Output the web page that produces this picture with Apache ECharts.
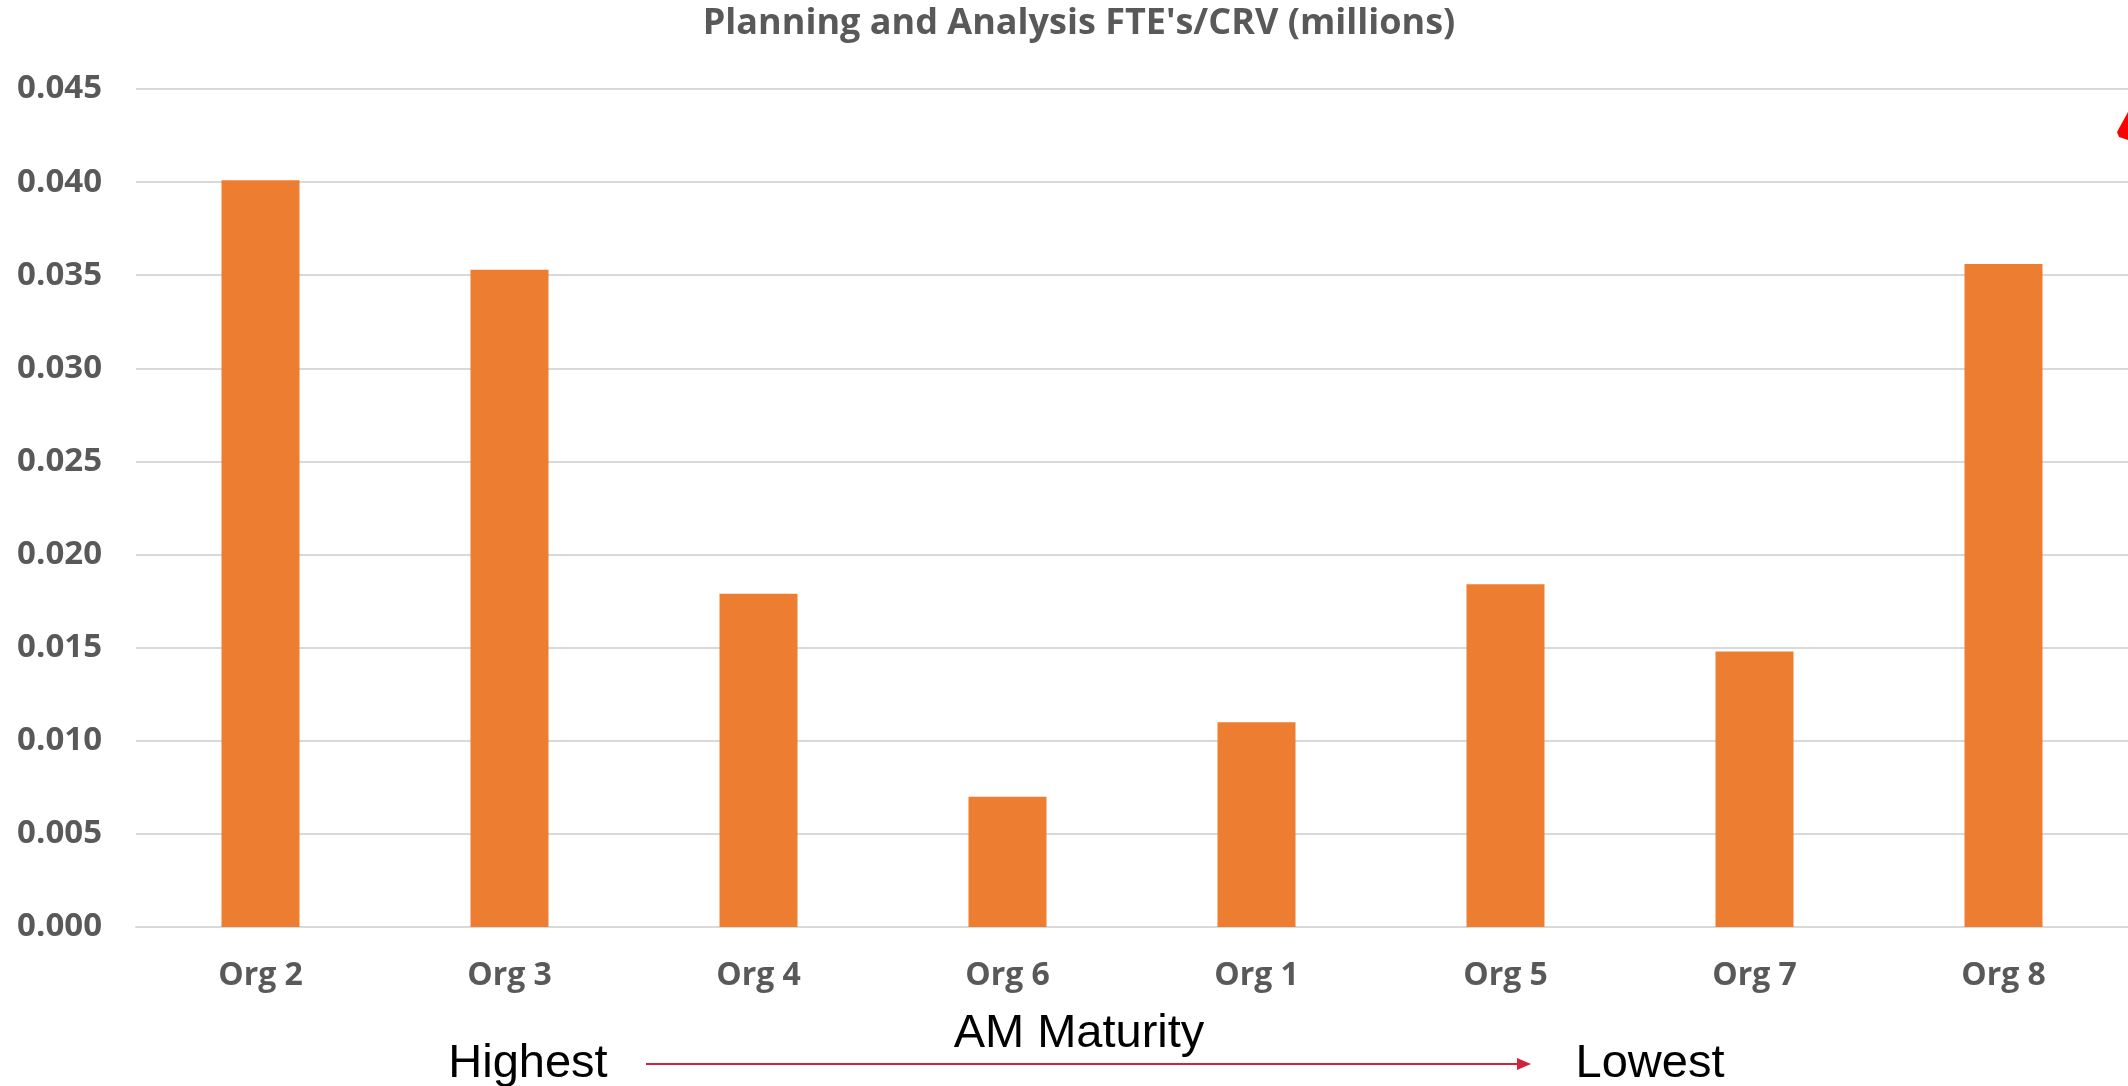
<!DOCTYPE html>
<html>
<head>
<meta charset="utf-8">
<style>
html,body{margin:0;padding:0;background:#fff;}
#chart{width:2128px;height:1086px;}
</style>
<script src="https://cdn.jsdelivr.net/npm/echarts@6/dist/echarts.min.js"></script>
</head>
<body>
<div id="chart"></div>
<script>
var categories = ['Org 2', 'Org 3', 'Org 4', 'Org 6', 'Org 1', 'Org 5', 'Org 7', 'Org 8'];
var values = [0.0401, 0.0353, 0.0179, 0.0070, 0.0110, 0.0184, 0.0148, 0.0356];
var titleText = "Planning and Analysis FTE's/CRV (millions)";
var axisNote = 'AM Maturity';
var leftNote = 'Highest';
var rightNote = 'Lowest';

var chart = echarts.init(document.getElementById('chart'), null, {renderer: 'canvas'});
var labelFont = '"Open Sans", "Noto Sans", sans-serif';
var option = {
  animation: false,
  backgroundColor: '#ffffff',
  grid: {left: 136, top: 89, width: 1993, height: 838, containLabel: false},
  xAxis: {
    type: 'category',
    data: categories,
    axisTick: {show: false},
    axisLine: {lineStyle: {color: '#d9d9d9', width: 2}},
    axisLabel: {color: '#595959', fontFamily: labelFont, fontWeight: 'bold', fontSize: 32, margin: 33, lineHeight: 32}
  },
  yAxis: {
    type: 'value',
    min: 0, max: 0.045, interval: 0.005,
    axisLine: {show: false},
    axisTick: {show: false},
    splitLine: {lineStyle: {color: '#d9d9d9', width: 2}},
    axisLabel: {
      color: '#595959', fontFamily: labelFont, fontWeight: 'bold', fontSize: 33, margin: 34,
      formatter: function (v) { return v.toFixed(3); }
    }
  },
  series: [{
    type: 'bar',
    data: values,
    barWidth: 78,
    itemStyle: {color: '#ED7D31'}
  }],
  graphic: [
    {type: 'text', x: 1079, y: 24, style: {text: titleText, fill: '#595959', font: 'bold 36px ' + labelFont, textAlign: 'center', textVerticalAlign: 'middle'}},
    {type: 'text', x: 1079, y: 1034, style: {text: axisNote, fill: '#000', font: '47px "Liberation Sans", Arial, sans-serif', textAlign: 'center', textVerticalAlign: 'middle'}},
    {type: 'text', x: 528, y: 1064, style: {text: leftNote, fill: '#000', font: '47px "Liberation Sans", Arial, sans-serif', textAlign: 'center', textVerticalAlign: 'middle'}},
    {type: 'text', x: 1650, y: 1064, style: {text: rightNote, fill: '#000', font: '47px "Liberation Sans", Arial, sans-serif', textAlign: 'center', textVerticalAlign: 'middle'}},
    {type: 'line', shape: {x1: 646, y1: 1064, x2: 1520, y2: 1064}, style: {stroke: '#D4213D', lineWidth: 2}},
    {type: 'polygon', shape: {points: [[1517, 1058], [1531, 1064], [1517, 1070]]}, style: {fill: '#D4213D'}},
    {type: 'polygon', shape: {points: [[2117, 132], [2128, 112], [2128, 140], [2119, 137]]}, style: {fill: '#FF0000'}}
  ]
};
chart.setOption(option);
</script>
</body>
</html>
